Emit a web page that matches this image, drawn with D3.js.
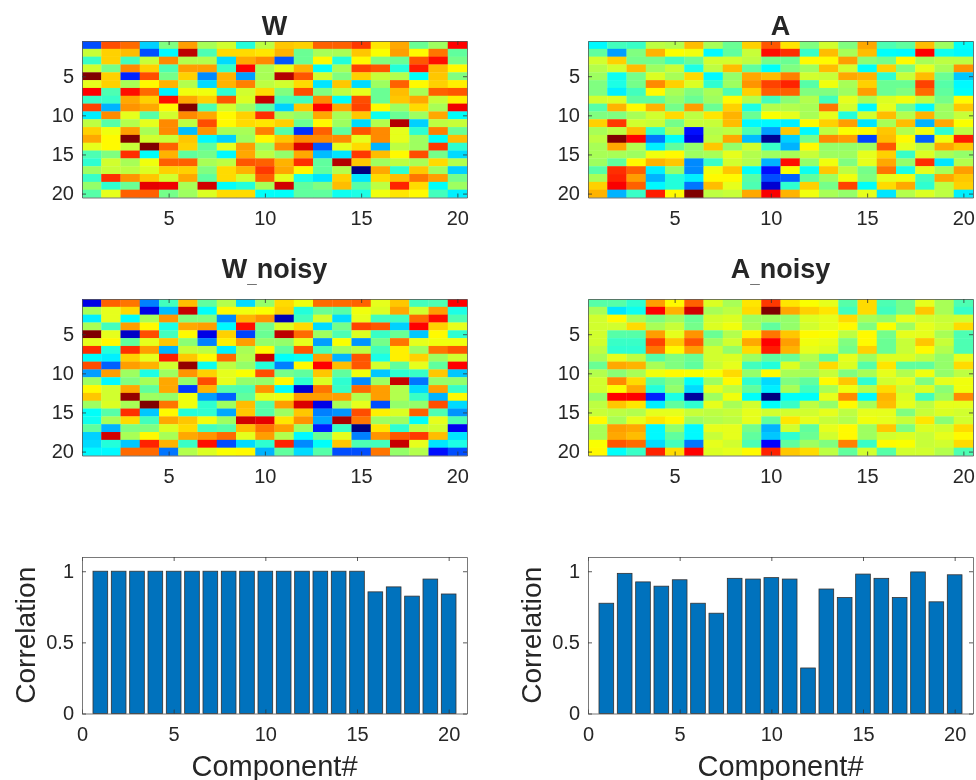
<!DOCTYPE html>
<html>
<head>
<meta charset="utf-8">
<script src="https://cdn.jsdelivr.net/npm/d3@7"></script>
<style>
body { margin: 0; background: #fff; }
text { font-family: "Liberation Sans", Arial, sans-serif; fill: #262626; }
</style>
</head>
<body>
<svg id="Target" width="976" height="780"></svg>
<script>
// values are positions on the jet colormap, 0-100
const W = [
[20,80,77,33,50,72,54,58,41,56,68,67,78,78,82,65,71,48,53,87],
[57,67,69,20,37,94,45,66,66,65,70,48,54,54,68,62,72,63,76,47],
[43,67,44,57,74,55,55,34,71,74,21,48,63,41,63,50,48,79,86,49],
[58,49,74,67,45,72,72,43,87,54,60,70,38,54,81,79,41,85,69,63],
[100,67,16,80,49,67,26,70,28,54,95,79,58,50,67,57,55,38,68,50],
[60,67,54,63,70,55,34,70,75,56,58,66,35,68,34,53,78,63,67,64],
[87,45,86,77,36,61,61,42,58,66,50,80,50,56,60,48,69,54,78,79],
[43,43,71,67,86,71,67,79,59,93,45,44,74,38,80,48,68,71,57,64],
[81,30,73,71,63,100,45,58,53,46,33,68,87,71,81,63,53,66,54,89],
[36,74,60,46,58,74,71,63,67,83,54,52,71,54,68,39,48,53,71,38],
[56,46,55,60,74,56,80,63,66,65,67,48,63,53,34,55,95,33,56,57],
[67,61,72,54,74,31,73,54,54,75,46,17,78,47,79,74,60,42,75,48],
[71,63,100,58,57,68,37,33,53,63,68,74,74,74,60,74,60,53,38,69],
[60,63,57,100,78,67,47,60,72,53,74,91,21,60,66,30,56,53,82,42],
[45,50,83,38,70,47,49,37,71,56,52,71,31,35,82,69,63,80,49,34],
[42,58,54,61,78,78,54,56,79,78,70,83,47,95,68,53,56,54,66,55],
[53,57,56,59,67,67,50,66,70,82,71,63,47,55,0,71,42,68,53,33],
[43,83,73,68,58,71,47,66,58,78,60,40,35,67,35,66,69,76,72,49],
[52,42,48,90,89,54,92,38,41,54,92,47,50,69,46,56,84,66,38,53],
[46,60,78,78,49,53,59,66,66,38,38,47,47,39,40,61,65,63,44,36]
];

const A = [
[37,44,43,56,55,69,54,48,67,79,65,50,58,50,71,45,47,69,53,38],
[47,28,50,70,62,61,37,47,57,86,83,43,69,54,69,38,37,87,39,37],
[58,67,49,49,44,48,58,58,56,49,48,63,63,72,51,49,63,54,56,56],
[55,58,69,53,57,40,56,69,47,38,50,53,69,58,38,67,50,60,54,73],
[53,39,49,59,54,66,37,52,71,69,75,58,57,71,70,42,57,69,48,32],
[50,40,49,74,67,59,42,53,73,81,84,46,61,54,67,48,48,81,46,37],
[50,36,44,63,54,50,54,45,67,78,78,50,50,53,72,48,50,77,47,38],
[58,59,47,47,52,48,53,63,55,44,51,55,44,60,54,59,61,56,49,63],
[46,70,63,70,49,72,48,67,40,55,55,54,76,58,37,60,48,37,53,68],
[50,50,54,58,66,56,65,70,48,62,60,54,60,41,58,69,55,70,53,57],
[67,82,58,57,49,57,57,69,37,37,36,63,67,72,35,54,69,30,71,62],
[54,56,69,42,54,14,55,56,45,28,68,37,56,62,63,68,55,61,42,56],
[56,100,87,24,38,10,56,71,31,2,33,49,74,72,19,69,63,22,61,85],
[54,71,55,36,47,52,68,52,58,43,30,63,52,52,53,79,60,56,71,68],
[54,54,53,61,63,53,54,60,55,53,54,57,53,53,60,67,43,59,54,52],
[53,47,63,70,68,26,43,58,55,30,86,52,61,50,60,71,52,83,35,55],
[46,83,78,36,52,26,61,68,38,14,62,39,68,56,49,76,40,60,54,72],
[54,84,72,30,41,36,63,63,46,20,22,47,53,61,50,60,61,44,71,68],
[67,88,78,37,41,24,69,60,45,8,42,67,49,81,38,66,71,42,56,67],
[70,30,43,85,63,100,56,57,71,88,70,61,54,52,60,35,55,59,56,36]
];

const W_noisy = [
[10,78,76,25,44,69,47,55,34,52,66,61,77,77,78,60,68,44,45,87],
[54,60,66,10,31,93,38,63,61,62,67,41,48,46,61,59,71,58,72,40],
[36,60,38,54,73,50,50,26,70,73,5,44,58,34,60,44,44,77,86,45],
[54,44,72,63,40,71,72,37,86,49,59,66,34,49,81,79,33,87,67,60],
[100,60,7,80,44,63,10,67,19,48,94,77,53,45,59,43,48,32,63,42],
[60,63,47,60,68,51,25,64,72,52,52,60,28,62,27,49,76,60,61,61],
[83,41,83,72,30,57,56,36,54,63,47,79,45,53,56,44,64,53,76,79],
[38,36,67,60,85,68,63,77,55,93,38,39,72,30,79,40,64,67,53,58],
[80,22,72,70,58,98,39,56,52,41,25,63,87,69,79,58,47,60,47,87],
[28,72,53,40,53,73,67,60,62,80,49,47,68,47,61,32,42,43,68,32],
[53,37,50,54,71,52,80,60,52,52,63,42,59,42,26,53,93,24,52,52],
[63,58,71,47,71,18,70,46,45,73,38,8,76,43,77,72,55,34,72,43],
[68,58,98,53,52,61,28,22,47,60,61,72,72,72,55,72,55,43,30,63],
[53,59,54,100,76,61,42,53,69,46,72,91,10,54,60,20,52,52,80,34],
[38,46,83,32,63,41,42,29,68,46,53,68,25,27,80,64,59,78,45,27],
[39,54,66,44,71,68,61,53,92,90,65,73,29,96,76,53,53,38,60,45],
[47,30,50,50,59,66,44,46,69,76,72,53,15,43,0,65,42,56,58,11],
[33,92,54,63,54,71,73,77,60,72,55,37,48,60,25,73,79,82,69,35],
[34,41,32,84,70,43,86,20,34,42,84,26,38,68,45,44,93,60,35,40],
[37,37,77,77,24,55,59,62,63,30,47,34,46,20,20,76,52,55,14,20]
];

const A_noisy = [
[46,46,42,72,63,78,59,54,65,82,65,62,60,46,66,45,49,60,54,45],
[54,35,39,87,70,92,54,56,66,100,71,67,65,44,66,44,49,68,54,43],
[58,63,54,50,53,48,58,59,53,53,52,59,60,66,54,52,60,58,57,58],
[58,58,66,54,57,49,59,61,54,47,52,58,60,63,50,62,53,60,58,66],
[58,46,46,72,60,73,48,55,64,76,68,63,62,56,63,49,60,60,54,45],
[58,43,43,81,68,79,53,58,71,87,72,61,60,50,63,48,57,68,57,45],
[56,42,42,76,63,72,58,52,66,85,70,60,59,49,67,48,57,63,55,45],
[54,60,56,46,50,48,58,59,53,47,48,55,47,60,53,59,59,56,52,60],
[48,71,70,54,50,47,57,60,44,41,59,52,66,59,46,65,47,47,52,66],
[55,51,54,61,63,62,62,66,52,63,54,54,57,50,54,60,55,61,52,56],
[58,74,66,46,50,38,53,63,42,34,50,47,63,68,42,58,60,50,60,61],
[58,62,71,41,52,34,60,56,47,36,54,44,54,61,55,66,57,59,51,61],
[52,87,87,16,40,3,53,61,38,0,38,38,60,74,37,70,59,44,53,74],
[56,68,65,36,47,42,60,54,58,38,43,56,52,63,54,69,60,56,60,60],
[57,56,55,60,60,57,56,57,60,58,58,58,60,56,60,60,50,57,59,58],
[63,54,60,65,63,53,55,56,60,47,65,60,57,55,61,60,57,65,51,58],
[54,72,71,37,52,37,60,60,49,30,58,47,60,63,53,68,50,59,58,66],
[54,71,69,37,47,37,57,60,47,32,42,48,58,63,53,58,59,57,60,63],
[62,79,77,34,44,24,60,58,45,13,47,53,50,75,43,63,62,57,58,66],
[63,38,43,84,66,87,59,60,63,84,68,66,56,47,58,46,58,58,55,45]
];

const corr_W = [1,1,1,1,1,1,1,1,1,1,1,1,1,1,1,0.855,0.89,0.825,0.945,0.84];
const corr_A = [0.775,0.985,0.925,0.895,0.94,0.775,0.705,0.95,0.945,0.955,0.945,0.32,0.875,0.815,0.98,0.95,0.815,0.995,0.785,0.975];

const heatTicks = [5,10,15,20];
const barXTicks = [0,5,10,15,20];
const barYTicks = [0,0.5,1];

const svg = d3.select("#Target");

// the reference is a slightly soft raster
const defs = svg.append("defs");
defs.append("filter").attr("id", "soft")
    .append("feGaussianBlur").attr("stdDeviation", 0.45);
const root = svg.append("g").attr("filter", "url(#soft)");

const jet = d3.scaleLinear()
    .domain([0, 12.5, 37.5, 62.5, 87.5, 100])
    .range(["#000080", "#0000ff", "#00ffff", "#ffff00", "#ff0000", "#800000"]);

const boxW = 385, boxH = 156.5;
const leftX = 82, rightX = 588;

const styleAxis = g => {
    g.selectAll("path").attr("stroke", "#555").attr("stroke-width", 0.8);
    g.selectAll("line").attr("stroke", "#333").attr("stroke-width", 0.8);
    g.selectAll("text").style("font-size", "20px")
        .style("font-family", '"Liberation Sans", Arial, sans-serif')
        .attr("fill", "#262626");
};

// box with inward ticks on all four sides, like matlab
const drawAxes = (g, x, y, xTicks, yTicks, yFormat) => {
    g.append("g").attr("transform", `translate(0,${boxH})`)
        .call(d3.axisBottom(x).tickValues(xTicks).tickSizeInner(-4).tickSizeOuter(0).tickPadding(13.5))
        .call(styleAxis);
    g.append("g").call(d3.axisTop(x).tickValues(xTicks).tickSizeInner(-4).tickSizeOuter(0).tickFormat(""))
        .call(styleAxis);
    g.append("g")
        .call(d3.axisLeft(y).tickValues(yTicks).tickSizeInner(-4).tickSizeOuter(0).tickPadding(8).tickFormat(yFormat))
        .call(styleAxis);
    g.append("g").attr("transform", `translate(${boxW},0)`)
        .call(d3.axisRight(y).tickValues(yTicks).tickSizeInner(-4).tickSizeOuter(0).tickFormat(""))
        .call(styleAxis);
};

const heatmap = (px, py, matrix, title, titleGap) => {
    const g = root.append("g").attr("transform", `translate(${px},${py})`);
    const x = d3.scaleLinear().domain([0.5, 20.5]).range([0, boxW]);
    const y = d3.scaleLinear().domain([0.5, 20.5]).range([0, boxH]);

    const cells = matrix.flatMap((row, i) => row.map((v, j) => ({row: i + 1, col: j + 1, v})));
    g.selectAll("rect")
        .data(cells)
        .join("rect")
        .attr("x", d => x(d.col - 0.5))
        .attr("y", d => y(d.row - 0.5))
        .attr("width", x(1.5) - x(0.5) + 0.3)
        .attr("height", y(1.5) - y(0.5) + 0.3)
        .attr("fill", d => jet(d.v));

    drawAxes(g, x, y, heatTicks, heatTicks, d3.format("d"));

    const label = g.append("text")
        .attr("x", boxW / 2)
        .attr("y", -titleGap)
        .attr("text-anchor", "middle")
        .attr("font-size", 27)
        .attr("font-weight", "bold")
        .attr("fill", "#111");

    // underscore sits low and small in the original title
    const parts = title.split("_");
    label.append("tspan").text(parts[0]);
    if (parts[1]) {
        label.append("tspan").attr("font-size", 17).attr("dy", 5).text("_");
        label.append("tspan").attr("dy", -5).text(parts[1]);
    }
};

const barChart = (px, py, values) => {
    const g = root.append("g").attr("transform", `translate(${px},${py})`);
    const x = d3.scaleLinear().domain([0, 21]).range([0, boxW]);
    const y = d3.scaleLinear().domain([0, 1.1]).range([boxH, 0]);

    g.selectAll("rect")
        .data(values)
        .join("rect")
        .attr("x", (d, i) => x(i + 1 - 0.4))
        .attr("y", d => y(d))
        .attr("width", x(0.8) - x(0))
        .attr("height", d => y(0) - y(d))
        .attr("fill", "#0072bd")
        .attr("stroke", "#333")
        .attr("stroke-width", 0.8);

    drawAxes(g, x, y, barXTicks, barYTicks, d => d);

    g.append("text")
        .attr("x", boxW / 2)
        .attr("y", boxH + 62)
        .attr("text-anchor", "middle")
        .attr("font-size", 29)
        .text("Component#");

    g.append("text")
        .attr("transform", `translate(-47,${boxH / 2}) rotate(-90)`)
        .attr("text-anchor", "middle")
        .attr("font-size", 28)
        .text("Correlation");
};

heatmap(leftX, 41, W, "W", 6);
heatmap(rightX, 41, A, "A", 6);
heatmap(leftX, 299, W_noisy, "W_noisy", 21);
heatmap(rightX, 299, A_noisy, "A_noisy", 21);
barChart(leftX, 557, corr_W);
barChart(rightX, 557, corr_A);
</script>
</body>
</html>
